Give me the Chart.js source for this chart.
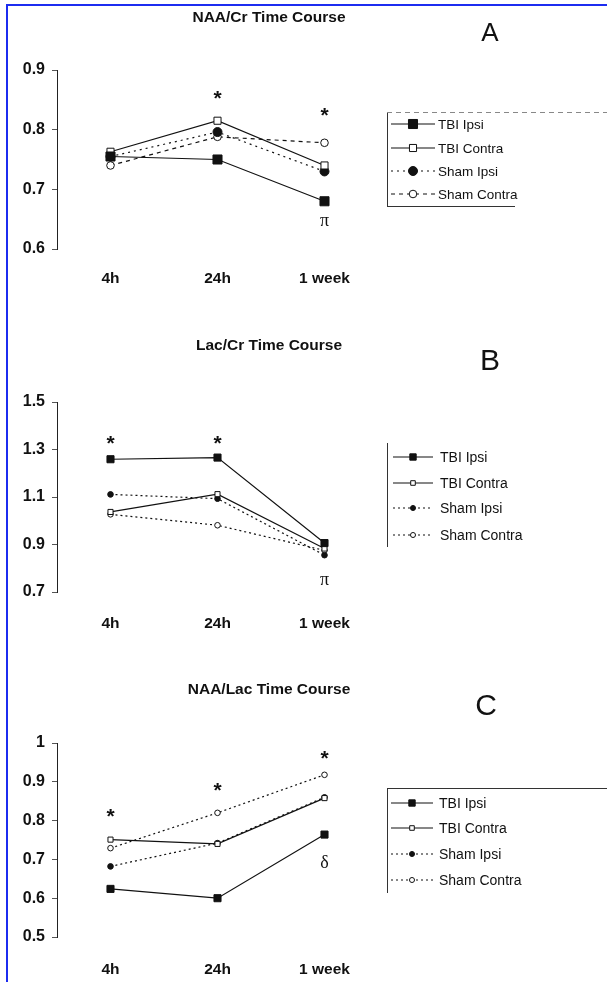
<!DOCTYPE html>
<html>
<head>
<meta charset="utf-8">
<script src="https://cdn.jsdelivr.net/npm/chart.js@4.4.1/dist/chart.umd.min.js"></script>
<style>
  html, body { margin: 0; padding: 0; background: #fff; }
  body { width: 607px; height: 982px; position: relative; overflow: hidden; font-family: 'Liberation Sans', Arial, sans-serif; color: #111; }
  .frame { position: absolute; left: 6px; top: 4px; width: 640px; height: 1000px; border-left: 2px solid #1c2cf0; border-top: 2px solid #1c2cf0; }
  canvas { position: absolute; left: 0; }
  .title { position: absolute; font-weight: bold; font-size: 15.5px; line-height: 1; transform: translate(-50%, -50%); white-space: nowrap; }
  .letter { position: absolute; font-size: 30px; line-height: 1; transform: translate(-50%, -50%); }
</style>
</head>
<body>
<div class="frame"></div>

<canvas id="chartA" width="607" height="320" style="top:0"></canvas>
<canvas id="chartB" width="607" height="320" style="top:320px"></canvas>
<canvas id="chartC" width="607" height="342" style="top:640px"></canvas>

<div class="title" style="left:269px; top:17px">NAA/Cr Time Course</div>
<div class="letter" style="left:490px; top:32px; font-size:26px">A</div>
<div class="title" style="left:269px; top:345px">Lac/Cr Time Course</div>
<div class="letter" style="left:490px; top:360px">B</div>
<div class="title" style="left:269px; top:689px">NAA/Lac Time Course</div>
<div class="letter" style="left:486px; top:705px">C</div>

<script>
// MRS time course figure - three line panels

const categories = ['4h', '24h', '1 week'];
const seriesNames = ['TBI Ipsi', 'TBI Contra', 'Sham Ipsi', 'Sham Contra'];

// A: NAA/Cr
const naaCrTicks = [0.6, 0.7, 0.8, 0.9];
const naaCrTbiIpsi = [0.755, 0.75, 0.68];
const naaCrTbiContra = [0.763, 0.815, 0.74];
const naaCrShamIpsi = [0.755, 0.796, 0.73];
const naaCrShamContra = [0.74, 0.788, 0.778];
const naaCrMarks = [['*', 1, 0.857], ['*', 2, 0.83], ['π', 2, 0.647]];

// B: Lac/Cr
const lacCrTicks = [0.7, 0.9, 1.1, 1.3, 1.5];
const lacCrTbiIpsi = [1.259, 1.266, 0.906];
const lacCrTbiContra = [1.037, 1.112, 0.883];
const lacCrShamIpsi = [1.111, 1.093, 0.855];
const lacCrShamContra = [1.027, 0.981, 0.875];
const lacCrMarks = [['*', 0, 1.34], ['*', 1, 1.34], ['π', 2, 0.75]];

// C: NAA/Lac
const naaLacTicks = [0.5, 0.6, 0.7, 0.8, 0.9, 1];
const naaLacTbiIpsi = [0.624, 0.6, 0.764];
const naaLacTbiContra = [0.751, 0.74, 0.858];
const naaLacShamIpsi = [0.682, 0.742, 0.86];
const naaLacShamContra = [0.729, 0.82, 0.918];
const naaLacMarks = [['*', 0, 0.82], ['*', 1, 0.887], ['*', 2, 0.969], ['δ', 2, 0.69]];

const FONT = "'Liberation Sans', Arial, sans-serif";
const INK = '#111';

// 注記 (*, π, δ) と凡例をキャンバスに描く
const panelExtras = {
    id: 'panelExtras',
    afterDatasetsDraw(chart, args, opts) {
        const ctx = chart.ctx;
        const xs = chart.scales.x;
        const ys = chart.scales.y;
        ctx.save();

        ctx.fillStyle = INK;
        ctx.textAlign = 'center';
        ctx.textBaseline = 'middle';
        (opts.marks || []).forEach(([txt, idx, val]) => {
            const star = txt === '*';
            ctx.font = star ? `bold 21px ${FONT}` : "18px 'Liberation Serif', serif";
            ctx.fillText(txt, xs.getPixelForValue(idx), ys.getPixelForValue(val) + (star ? 4 : 0));
        });

        const lg = opts.legend;
        ctx.lineWidth = 1;
        lg.frame.forEach(([x1, y1, x2, y2, dashed]) => {
            ctx.strokeStyle = dashed ? '#888' : '#333';
            ctx.setLineDash(dashed ? [5, 4] : []);
            ctx.beginPath();
            ctx.moveTo(x1, y1);
            ctx.lineTo(x2, y2);
            ctx.stroke();
        });

        chart.data.datasets.forEach((ds, i) => {
            const y = lg.rows[i];
            ctx.strokeStyle = INK;
            ctx.lineWidth = ds.borderWidth;
            ctx.setLineDash(ds.borderDash || []);
            ctx.beginPath();
            ctx.moveTo(lg.x0, y);
            ctx.lineTo(lg.x1, y);
            ctx.stroke();
            ctx.setLineDash([]);
            ctx.lineWidth = 1;
            ctx.fillStyle = ds.pointBackgroundColor;
            Chart.helpers.drawPoint(ctx, {
                pointStyle: ds.pointStyle,
                radius: ds.pointRadius * lg.markerScale,
                borderWidth: 1
            }, (lg.x0 + lg.x1) / 2, y);

            ctx.fillStyle = INK;
            ctx.font = lg.font;
            ctx.textAlign = 'left';
            ctx.textBaseline = 'middle';
            ctx.fillText(ds.label, lg.textX, y + 1);
        });
        ctx.restore();
    }
};

function makeDatasets(series, big) {
    // 系列ごとの線種・マーカー
    const styles = big ? [
        { pointStyle: 'rect', pointRadius: 6.4, fill: INK, dash: [] },
        { pointStyle: 'rect', pointRadius: 5, fill: '#fff', dash: [] },
        { pointStyle: 'circle', pointRadius: 4.5, fill: INK, dash: [2, 4] },
        { pointStyle: 'circle', pointRadius: 3.8, fill: '#fff', dash: [4, 4] }
    ] : [
        { pointStyle: 'rect', pointRadius: 5, fill: INK, dash: [] },
        { pointStyle: 'rect', pointRadius: 3.6, fill: '#fff', dash: [] },
        { pointStyle: 'circle', pointRadius: 2.8, fill: INK, dash: [2, 3] },
        { pointStyle: 'circle', pointRadius: 2.8, fill: '#fff', dash: [2, 3] }
    ];
    return series.map((data, i) => ({
        label: seriesNames[i],
        data: data,
        borderColor: INK,
        borderWidth: 1.2,
        borderDash: styles[i].dash,
        tension: 0,
        pointStyle: styles[i].pointStyle,
        pointRadius: styles[i].pointRadius,
        pointBackgroundColor: styles[i].fill,
        pointBorderColor: INK,
        pointBorderWidth: 1
    }));
}

function buildPanel(id, p) {
    return new Chart(document.getElementById(id), {
        type: 'line',
        data: { labels: categories, datasets: makeDatasets(p.series, p.big) },
        plugins: [panelExtras],
        options: {
            responsive: false,
            animation: false,
            devicePixelRatio: 1,
            layout: { padding: { top: p.top, right: 229, left: 0, bottom: 0 } },
            plugins: {
                legend: { display: false },
                tooltip: { enabled: false },
                panelExtras: { marks: p.marks, legend: p.legend }
            },
            scales: {
                x: {
                    type: 'category',
                    offset: true,
                    grid: { display: false, drawTicks: false },
                    border: { display: false },
                    ticks: { color: INK, font: { family: FONT, size: 15.5, weight: 'bold' }, padding: p.xPad, maxRotation: 0 },
                    afterFit(s) { s.height = p.xHeight; }
                },
                y: {
                    min: p.ticks[0],
                    max: p.ticks[p.ticks.length - 1],
                    grid: { display: true, drawOnChartArea: false, drawTicks: true, tickLength: 5, color: '#555' },
                    border: { display: true, color: '#222', width: 1 },
                    ticks: { color: INK, font: { family: FONT, size: 16, weight: 'bold' }, padding: 7, callback: v => String(v) },
                    afterBuildTicks(s) { s.ticks = p.ticks.map(v => ({ value: v })); },
                    afterFit(s) { s.width = 57; }
                }
            }
        }
    });
}

buildPanel('chartA', {
    series: [naaCrTbiIpsi, naaCrTbiContra, naaCrShamIpsi, naaCrShamContra],
    ticks: naaCrTicks,
    marks: naaCrMarks,
    big: true,
    top: 70, xHeight: 71, xPad: 20,
    legend: {
        x0: 391, x1: 435, textX: 438, markerScale: 1,
        rows: [124, 148, 171, 194],
        font: `13.5px ${FONT}`,
        frame: [[387.5, 112, 387.5, 206], [387, 206.5, 515, 206.5], [387, 112.5, 607, 112.5, true]]
    }
});

buildPanel('chartB', {
    series: [lacCrTbiIpsi, lacCrTbiContra, lacCrShamIpsi, lacCrShamContra],
    ticks: lacCrTicks,
    marks: lacCrMarks,
    big: false,
    top: 82, xHeight: 48, xPad: 22,
    legend: {
        x0: 393, x1: 433, textX: 440, markerScale: 0.9,
        rows: [137, 163, 188, 215],
        font: `14px ${FONT}`,
        frame: [[387.5, 123, 387.5, 227]]
    }
});

buildPanel('chartC', {
    series: [naaLacTbiIpsi, naaLacTbiContra, naaLacShamIpsi, naaLacShamContra],
    ticks: naaLacTicks,
    marks: naaLacMarks,
    big: false,
    top: 103, xHeight: 45, xPad: 23,
    legend: {
        x0: 391, x1: 433, textX: 439, markerScale: 0.9,
        rows: [163, 188, 214, 240],
        font: `14px ${FONT}`,
        frame: [[387, 148.5, 607, 148.5], [387.5, 148, 387.5, 253]]
    }
});
</script>
</body>
</html>
